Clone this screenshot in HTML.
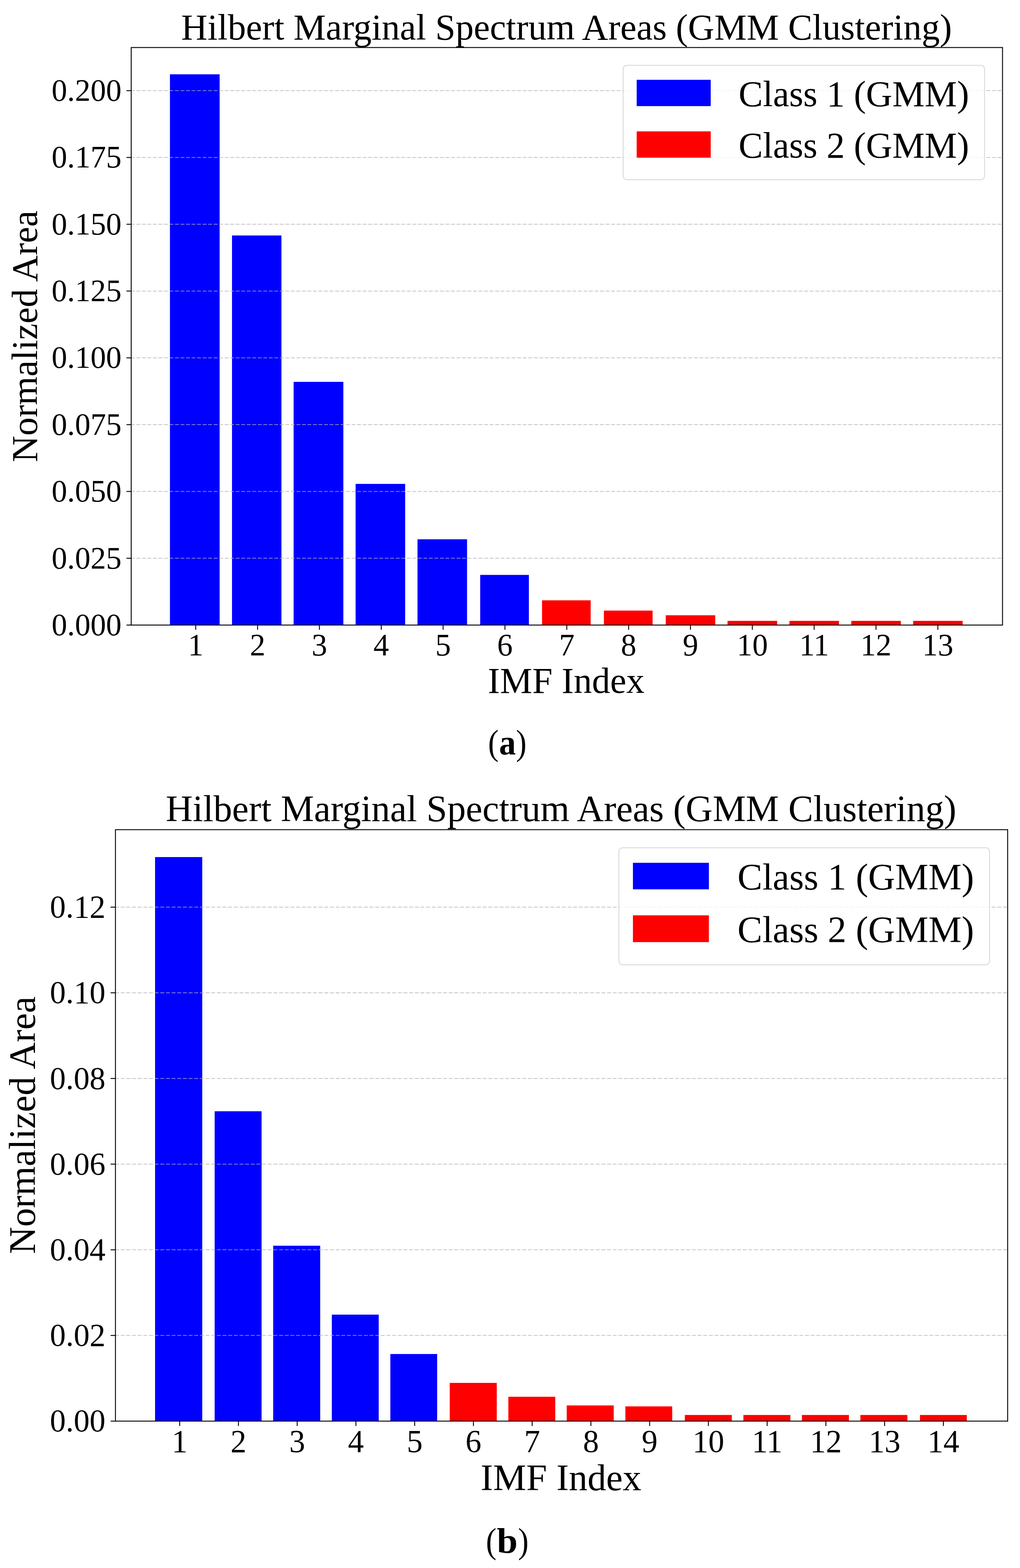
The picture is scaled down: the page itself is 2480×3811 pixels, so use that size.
<!DOCTYPE html>
<html><head><meta charset="utf-8"><title>Hilbert Marginal Spectrum Areas (GMM Clustering)</title>
<style>
html,body{margin:0;padding:0;background:#fff;}
body{width:2480px;height:3811px;overflow:hidden;}
svg{display:block;}
svg text{font-family:'Liberation Serif', 'Times New Roman', serif;fill:#000;}
</style></head><body>
<svg width="2480" height="3811" viewBox="0 0 2480 3811">
<rect x="0" y="0" width="2480" height="3811" fill="#fff"/>
<rect x="413.2" y="180.6" width="120.8" height="1338.6" fill="#0000ff"/>
<rect x="564.1" y="572.3" width="120.2" height="946.9" fill="#0000ff"/>
<rect x="713.9" y="928.1" width="120.9" height="591.1" fill="#0000ff"/>
<rect x="864.6" y="1176.1" width="120.5" height="343.1" fill="#0000ff"/>
<rect x="1015.1" y="1310.7" width="120.5" height="208.5" fill="#0000ff"/>
<rect x="1167.5" y="1397.3" width="118.4" height="121.9" fill="#0000ff"/>
<rect x="1317.9" y="1459.1" width="118.2" height="60.1" fill="#ff0000"/>
<rect x="1468.3" y="1484" width="118.4" height="35.2" fill="#ff0000"/>
<rect x="1618.7" y="1495.4" width="120.4" height="23.8" fill="#ff0000"/>
<rect x="1768.9" y="1509" width="120.6" height="10.2" fill="#ff0000"/>
<rect x="1919.4" y="1509" width="120.5" height="10.2" fill="#ff0000"/>
<rect x="2069.8" y="1509" width="120.5" height="10.2" fill="#ff0000"/>
<rect x="2220.2" y="1509" width="120.4" height="10.2" fill="#ff0000"/>
<line x1="318.16" y1="1519.2" x2="2437.5" y2="1519.2" stroke="#b0b0b0" stroke-opacity="0.72" stroke-width="2" stroke-dasharray="9.37 4.05"/>
<line x1="318.16" y1="1356.84" x2="2437.5" y2="1356.84" stroke="#b0b0b0" stroke-opacity="0.72" stroke-width="2" stroke-dasharray="9.37 4.05"/>
<line x1="318.16" y1="1194.48" x2="2437.5" y2="1194.48" stroke="#b0b0b0" stroke-opacity="0.72" stroke-width="2" stroke-dasharray="9.37 4.05"/>
<line x1="318.16" y1="1032.12" x2="2437.5" y2="1032.12" stroke="#b0b0b0" stroke-opacity="0.72" stroke-width="2" stroke-dasharray="9.37 4.05"/>
<line x1="318.16" y1="869.76" x2="2437.5" y2="869.76" stroke="#b0b0b0" stroke-opacity="0.72" stroke-width="2" stroke-dasharray="9.37 4.05"/>
<line x1="318.16" y1="707.4" x2="2437.5" y2="707.4" stroke="#b0b0b0" stroke-opacity="0.72" stroke-width="2" stroke-dasharray="9.37 4.05"/>
<line x1="318.16" y1="545.04" x2="2437.5" y2="545.04" stroke="#b0b0b0" stroke-opacity="0.72" stroke-width="2" stroke-dasharray="9.37 4.05"/>
<line x1="318.16" y1="382.68" x2="2437.5" y2="382.68" stroke="#b0b0b0" stroke-opacity="0.72" stroke-width="2" stroke-dasharray="9.37 4.05"/>
<line x1="318.16" y1="220.32" x2="2437.5" y2="220.32" stroke="#b0b0b0" stroke-opacity="0.72" stroke-width="2" stroke-dasharray="9.37 4.05"/>
<rect x="1515.2" y="158.8" width="878.6" height="278" rx="9" ry="9" fill="#ffffff" fill-opacity="0.8" stroke="#cccccc" stroke-opacity="0.8" stroke-width="2"/>
<rect x="1548" y="193.9" width="180" height="64" fill="#0000ff"/>
<text x="1795.77" y="257.6" font-size="88.5">Class 1 (GMM)</text>
<rect x="1548" y="319.3" width="180" height="64" fill="#ff0000"/>
<text x="1795.77" y="383" font-size="88.5">Class 2 (GMM)</text>
<rect x="319" y="115.5" width="2118.5" height="1403.7" fill="none" stroke="#000" stroke-width="2.2" stroke-linejoin="miter"/>
<line x1="307.5" y1="1519.2" x2="319" y2="1519.2" stroke="#000" stroke-width="2.2"/>
<text x="295.38" y="1543.93" font-size="75.5" text-anchor="end">0.000</text>
<line x1="307.5" y1="1356.84" x2="319" y2="1356.84" stroke="#000" stroke-width="2.2"/>
<text x="295.38" y="1381.57" font-size="75.5" text-anchor="end">0.025</text>
<line x1="307.5" y1="1194.48" x2="319" y2="1194.48" stroke="#000" stroke-width="2.2"/>
<text x="295.38" y="1219.21" font-size="75.5" text-anchor="end">0.050</text>
<line x1="307.5" y1="1032.12" x2="319" y2="1032.12" stroke="#000" stroke-width="2.2"/>
<text x="295.38" y="1056.85" font-size="75.5" text-anchor="end">0.075</text>
<line x1="307.5" y1="869.76" x2="319" y2="869.76" stroke="#000" stroke-width="2.2"/>
<text x="295.38" y="894.49" font-size="75.5" text-anchor="end">0.100</text>
<line x1="307.5" y1="707.4" x2="319" y2="707.4" stroke="#000" stroke-width="2.2"/>
<text x="295.38" y="732.13" font-size="75.5" text-anchor="end">0.125</text>
<line x1="307.5" y1="545.04" x2="319" y2="545.04" stroke="#000" stroke-width="2.2"/>
<text x="295.38" y="569.77" font-size="75.5" text-anchor="end">0.150</text>
<line x1="307.5" y1="382.68" x2="319" y2="382.68" stroke="#000" stroke-width="2.2"/>
<text x="295.38" y="407.41" font-size="75.5" text-anchor="end">0.175</text>
<line x1="307.5" y1="220.32" x2="319" y2="220.32" stroke="#000" stroke-width="2.2"/>
<text x="295.38" y="245.05" font-size="75.5" text-anchor="end">0.200</text>
<line x1="475.9" y1="1519.2" x2="475.9" y2="1530.7" stroke="#000" stroke-width="2.2"/>
<text x="475.9" y="1592.8" font-size="75.5" text-anchor="middle">1</text>
<line x1="626.26" y1="1519.2" x2="626.26" y2="1530.7" stroke="#000" stroke-width="2.2"/>
<text x="626.26" y="1592.8" font-size="75.5" text-anchor="middle">2</text>
<line x1="776.62" y1="1519.2" x2="776.62" y2="1530.7" stroke="#000" stroke-width="2.2"/>
<text x="776.62" y="1592.8" font-size="75.5" text-anchor="middle">3</text>
<line x1="926.98" y1="1519.2" x2="926.98" y2="1530.7" stroke="#000" stroke-width="2.2"/>
<text x="926.98" y="1592.8" font-size="75.5" text-anchor="middle">4</text>
<line x1="1077.34" y1="1519.2" x2="1077.34" y2="1530.7" stroke="#000" stroke-width="2.2"/>
<text x="1077.34" y="1592.8" font-size="75.5" text-anchor="middle">5</text>
<line x1="1227.7" y1="1519.2" x2="1227.7" y2="1530.7" stroke="#000" stroke-width="2.2"/>
<text x="1227.7" y="1592.8" font-size="75.5" text-anchor="middle">6</text>
<line x1="1378.06" y1="1519.2" x2="1378.06" y2="1530.7" stroke="#000" stroke-width="2.2"/>
<text x="1378.06" y="1592.8" font-size="75.5" text-anchor="middle">7</text>
<line x1="1528.42" y1="1519.2" x2="1528.42" y2="1530.7" stroke="#000" stroke-width="2.2"/>
<text x="1528.42" y="1592.8" font-size="75.5" text-anchor="middle">8</text>
<line x1="1678.78" y1="1519.2" x2="1678.78" y2="1530.7" stroke="#000" stroke-width="2.2"/>
<text x="1678.78" y="1592.8" font-size="75.5" text-anchor="middle">9</text>
<line x1="1829.14" y1="1519.2" x2="1829.14" y2="1530.7" stroke="#000" stroke-width="2.2"/>
<text x="1829.14" y="1592.8" font-size="75.5" text-anchor="middle">10</text>
<line x1="1979.5" y1="1519.2" x2="1979.5" y2="1530.7" stroke="#000" stroke-width="2.2"/>
<text x="1979.5" y="1592.8" font-size="75.5" text-anchor="middle">11</text>
<line x1="2129.86" y1="1519.2" x2="2129.86" y2="1530.7" stroke="#000" stroke-width="2.2"/>
<text x="2129.86" y="1592.8" font-size="75.5" text-anchor="middle">12</text>
<line x1="2280.22" y1="1519.2" x2="2280.22" y2="1530.7" stroke="#000" stroke-width="2.2"/>
<text x="2280.22" y="1592.8" font-size="75.5" text-anchor="middle">13</text>
<text x="1377.5" y="95.7" font-size="88.5" text-anchor="middle">Hilbert Marginal Spectrum Areas (GMM Clustering)</text>
<text x="1376.6" y="1684" font-size="88.5" text-anchor="middle">IMF Index</text>
<text transform="translate(90 817.5) rotate(-90)" x="0" y="0" font-size="89.2" text-anchor="middle">Normalized Area</text>
<text transform="translate(1186.7 1834.2) scale(0.9 1)" x="0" y="0" font-size="85.8">(</text>
<text transform="translate(1213.4 1834.2) scale(0.95 1)" x="0" y="0" font-size="85.8" font-weight="bold">a</text>
<text transform="translate(1254.4 1834.2) scale(0.9 1)" x="0" y="0" font-size="85.8">)</text>
<rect x="377" y="2083.1" width="114.7" height="1370.9" fill="#0000ff"/>
<rect x="521.9" y="2700.9" width="114.1" height="753.1" fill="#0000ff"/>
<rect x="664.2" y="3027.7" width="114.3" height="426.3" fill="#0000ff"/>
<rect x="806.8" y="3195.2" width="114" height="258.8" fill="#0000ff"/>
<rect x="949.1" y="3290.9" width="113.8" height="163.1" fill="#0000ff"/>
<rect x="1093.5" y="3361.1" width="114.3" height="92.9" fill="#ff0000"/>
<rect x="1236" y="3394.8" width="114.1" height="59.2" fill="#ff0000"/>
<rect x="1377.9" y="3415.9" width="114.3" height="38.1" fill="#ff0000"/>
<rect x="1520.5" y="3418.2" width="113.9" height="35.8" fill="#ff0000"/>
<rect x="1665.1" y="3439.1" width="114.2" height="14.9" fill="#ff0000"/>
<rect x="1807.5" y="3439.1" width="114.2" height="14.9" fill="#ff0000"/>
<rect x="1949.8" y="3439.1" width="114.2" height="14.9" fill="#ff0000"/>
<rect x="2091.9" y="3439.1" width="114.3" height="14.9" fill="#ff0000"/>
<rect x="2236.8" y="3439.1" width="113.9" height="14.9" fill="#ff0000"/>
<line x1="279.8" y1="3454" x2="2450" y2="3454" stroke="#b0b0b0" stroke-opacity="0.72" stroke-width="2" stroke-dasharray="9.6 4.15"/>
<line x1="279.8" y1="3245.8" x2="2450" y2="3245.8" stroke="#b0b0b0" stroke-opacity="0.72" stroke-width="2" stroke-dasharray="9.6 4.15"/>
<line x1="279.8" y1="3037.6" x2="2450" y2="3037.6" stroke="#b0b0b0" stroke-opacity="0.72" stroke-width="2" stroke-dasharray="9.6 4.15"/>
<line x1="279.8" y1="2829.4" x2="2450" y2="2829.4" stroke="#b0b0b0" stroke-opacity="0.72" stroke-width="2" stroke-dasharray="9.6 4.15"/>
<line x1="279.8" y1="2621.2" x2="2450" y2="2621.2" stroke="#b0b0b0" stroke-opacity="0.72" stroke-width="2" stroke-dasharray="9.6 4.15"/>
<line x1="279.8" y1="2413" x2="2450" y2="2413" stroke="#b0b0b0" stroke-opacity="0.72" stroke-width="2" stroke-dasharray="9.6 4.15"/>
<line x1="279.8" y1="2204.8" x2="2450" y2="2204.8" stroke="#b0b0b0" stroke-opacity="0.72" stroke-width="2" stroke-dasharray="9.6 4.15"/>
<rect x="1504.8" y="2060.5" width="901.1" height="284.4" rx="9" ry="9" fill="#ffffff" fill-opacity="0.8" stroke="#cccccc" stroke-opacity="0.8" stroke-width="2"/>
<rect x="1538.9" y="2097" width="184.7" height="64.5" fill="#0000ff"/>
<text x="1793.08" y="2161.7" font-size="90.8">Class 1 (GMM)</text>
<rect x="1538.9" y="2224.7" width="184.7" height="65.1" fill="#ff0000"/>
<text x="1793.08" y="2289.5" font-size="90.8">Class 2 (GMM)</text>
<rect x="280.7" y="2016.5" width="2169.3" height="1437.5" fill="none" stroke="#000" stroke-width="2.2" stroke-linejoin="miter"/>
<line x1="268.9" y1="3454" x2="280.7" y2="3454" stroke="#000" stroke-width="2.2"/>
<text x="256.54" y="3479.32" font-size="77.3" text-anchor="end">0.00</text>
<line x1="268.9" y1="3245.8" x2="280.7" y2="3245.8" stroke="#000" stroke-width="2.2"/>
<text x="256.54" y="3271.12" font-size="77.3" text-anchor="end">0.02</text>
<line x1="268.9" y1="3037.6" x2="280.7" y2="3037.6" stroke="#000" stroke-width="2.2"/>
<text x="256.54" y="3062.92" font-size="77.3" text-anchor="end">0.04</text>
<line x1="268.9" y1="2829.4" x2="280.7" y2="2829.4" stroke="#000" stroke-width="2.2"/>
<text x="256.54" y="2854.72" font-size="77.3" text-anchor="end">0.06</text>
<line x1="268.9" y1="2621.2" x2="280.7" y2="2621.2" stroke="#000" stroke-width="2.2"/>
<text x="256.54" y="2646.52" font-size="77.3" text-anchor="end">0.08</text>
<line x1="268.9" y1="2413" x2="280.7" y2="2413" stroke="#000" stroke-width="2.2"/>
<text x="256.54" y="2438.32" font-size="77.3" text-anchor="end">0.10</text>
<line x1="268.9" y1="2204.8" x2="280.7" y2="2204.8" stroke="#000" stroke-width="2.2"/>
<text x="256.54" y="2230.12" font-size="77.3" text-anchor="end">0.12</text>
<line x1="436.9" y1="3454" x2="436.9" y2="3465.8" stroke="#000" stroke-width="2.2"/>
<text x="436.9" y="3528.8" font-size="77.3" text-anchor="middle">1</text>
<line x1="579.73" y1="3454" x2="579.73" y2="3465.8" stroke="#000" stroke-width="2.2"/>
<text x="579.73" y="3528.8" font-size="77.3" text-anchor="middle">2</text>
<line x1="722.56" y1="3454" x2="722.56" y2="3465.8" stroke="#000" stroke-width="2.2"/>
<text x="722.56" y="3528.8" font-size="77.3" text-anchor="middle">3</text>
<line x1="865.39" y1="3454" x2="865.39" y2="3465.8" stroke="#000" stroke-width="2.2"/>
<text x="865.39" y="3528.8" font-size="77.3" text-anchor="middle">4</text>
<line x1="1008.22" y1="3454" x2="1008.22" y2="3465.8" stroke="#000" stroke-width="2.2"/>
<text x="1008.22" y="3528.8" font-size="77.3" text-anchor="middle">5</text>
<line x1="1151.05" y1="3454" x2="1151.05" y2="3465.8" stroke="#000" stroke-width="2.2"/>
<text x="1151.05" y="3528.8" font-size="77.3" text-anchor="middle">6</text>
<line x1="1293.88" y1="3454" x2="1293.88" y2="3465.8" stroke="#000" stroke-width="2.2"/>
<text x="1293.88" y="3528.8" font-size="77.3" text-anchor="middle">7</text>
<line x1="1436.71" y1="3454" x2="1436.71" y2="3465.8" stroke="#000" stroke-width="2.2"/>
<text x="1436.71" y="3528.8" font-size="77.3" text-anchor="middle">8</text>
<line x1="1579.54" y1="3454" x2="1579.54" y2="3465.8" stroke="#000" stroke-width="2.2"/>
<text x="1579.54" y="3528.8" font-size="77.3" text-anchor="middle">9</text>
<line x1="1722.37" y1="3454" x2="1722.37" y2="3465.8" stroke="#000" stroke-width="2.2"/>
<text x="1722.37" y="3528.8" font-size="77.3" text-anchor="middle">10</text>
<line x1="1865.2" y1="3454" x2="1865.2" y2="3465.8" stroke="#000" stroke-width="2.2"/>
<text x="1865.2" y="3528.8" font-size="77.3" text-anchor="middle">11</text>
<line x1="2008.03" y1="3454" x2="2008.03" y2="3465.8" stroke="#000" stroke-width="2.2"/>
<text x="2008.03" y="3528.8" font-size="77.3" text-anchor="middle">12</text>
<line x1="2150.86" y1="3454" x2="2150.86" y2="3465.8" stroke="#000" stroke-width="2.2"/>
<text x="2150.86" y="3528.8" font-size="77.3" text-anchor="middle">13</text>
<line x1="2293.69" y1="3454" x2="2293.69" y2="3465.8" stroke="#000" stroke-width="2.2"/>
<text x="2293.69" y="3528.8" font-size="77.3" text-anchor="middle">14</text>
<text x="1364.15" y="1996.1" font-size="90.8" text-anchor="middle">Hilbert Marginal Spectrum Areas (GMM Clustering)</text>
<text x="1364.05" y="3622.4" font-size="90.8" text-anchor="middle">IMF Index</text>
<text transform="translate(84.5 2734.7) rotate(-90)" x="0" y="0" font-size="91.3" text-anchor="middle">Normalized Area</text>
<text transform="translate(1181.5 3773.5) scale(0.9 1)" x="0" y="0" font-size="85.8">(</text>
<text transform="translate(1207.9 3773.5) scale(1.06 1)" x="0" y="0" font-size="85.8" font-weight="bold">b</text>
<text transform="translate(1259.5 3773.5) scale(0.9 1)" x="0" y="0" font-size="85.8">)</text>
</svg>
</body></html>
